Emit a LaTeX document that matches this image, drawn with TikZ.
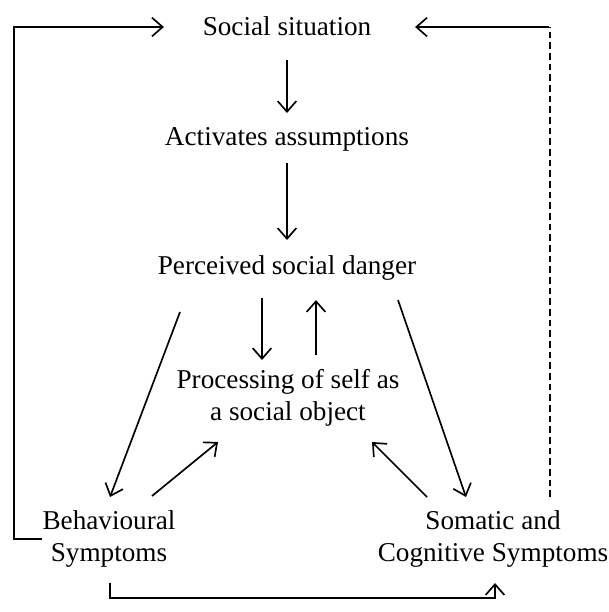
\documentclass[tikz,border=0pt]{standalone}
\usepackage{fontspec}
\setmainfont{Liberation Serif}
\usetikzlibrary{arrows.meta,calc,positioning}

\begin{document}
\begin{tikzpicture}[x=0.75pt,y=-0.75pt,
  every node/.style={inner sep=0pt,font=\fontsize{20.4}{24}\selectfont,align=center},
  arr/.style={-{Straight Barb[length=8pt,width=14pt]},line width=1.25pt},
  line width=1.25pt]
\useasboundingbox (0,0) rectangle (609,612);
\node (soc) at (287,26) {Social situation};
\node (act) at (287,139) {Activates assumptions};
\node (per) at (287,268) {Perceived social danger};
\node (pro) at (288,398) {Processing of self as\\a social object};
\node (beh) at (109,539) {Behavioural\\Symptoms};
\node (som) at (493,539) {Somatic and\\Cognitive Symptoms};
\coordinate (lt) at (14,27);
\coordinate (rt) at (550,27);
\coordinate (bl) at (110,598);
\draw[arr] ($(soc)+(0,34)$) -- ($(act)+(0,-26)$);
\draw[arr] ($(act)+(0,24)$) -- ($(per)+(0,-28)$);
\draw[arr] ($(per)+(-25,30)$) -- ($(pro)+(-26,-38)$);
\draw[arr] ($(pro)+(28,-43)$) -- ($(per)+(29,32)$);
\draw[arr] ($(per)+(-107,44)$) -- ($(beh)+(1,-42)$);
\draw[arr] ($(beh)+(43,-43)$) -- ($(pro)+(-70,44)$);
\draw[arr] ($(som)+(-66,-42)$) -- ($(pro)+(84,44)$);
\draw[arr] ($(per)+(111,32)$) -- ($(som)+(-27,-42)$);
\draw[arr] (beh.west) -| (lt) -- ($(soc.west)+(-38,1)$);
\draw[dash pattern=on 5pt off 3pt] ($(som)+(57,-42)$) -- (rt);
\draw[arr] ([xshift=-0.62pt]rt) -- ($(soc.east)+(43,1)$);
\draw[arr] ($(beh)+(1,44)$) -- (bl) -| ($(som)+(2,44)$);
\end{tikzpicture}
\end{document}
